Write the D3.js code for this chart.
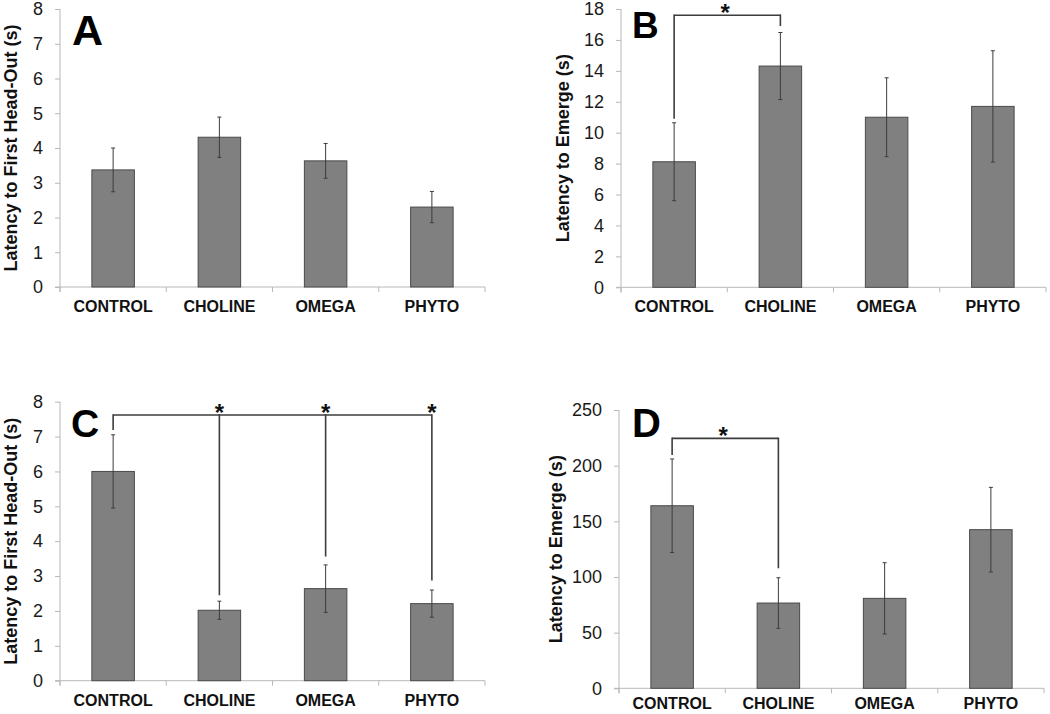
<!DOCTYPE html>
<html><head><meta charset="utf-8">
<script src="https://cdn.jsdelivr.net/npm/d3@7"></script>
<style>
html,body{margin:0;padding:0;background:#fff;}
svg{display:block;font-family:"Liberation Sans",Arial,sans-serif;}
</style></head>
<body>
<svg id="chart" width="1050" height="714"></svg>
<script>
// ---- data ----
const categories = ["CONTROL", "CHOLINE", "OMEGA", "PHYTO"];

const valuesA = [3.37, 4.31, 3.63, 2.30];
const errorsA = [0.63, 0.58, 0.50, 0.45];
const ticksA = [0, 1, 2, 3, 4, 5, 6, 7, 8];

const valuesB = [8.12, 14.31, 11.0, 11.7];
const errorsB = [2.52, 2.17, 2.55, 3.6];
const ticksB = [0, 2, 4, 6, 8, 10, 12, 14, 16, 18];

const valuesC = [6.0, 2.02, 2.64, 2.21];
const errorsC = [1.05, 0.26, 0.68, 0.39];
const ticksC = [0, 1, 2, 3, 4, 5, 6, 7, 8];

const valuesD = [164, 76.6, 80.8, 142.5];
const errorsD = [42, 22.7, 32, 38];
const ticksD = [0, 50, 100, 150, 200, 250];

const titleHeadOut = "Latency to First Head-Out (s)";
const titleEmerge = "Latency to Emerge (s)";

// significance brackets: [category, value where leg ends]
const bracketB = {level: 17.6, legs: [["CONTROL", 10.9], ["CHOLINE", 16.9]], stars: ["mid"]};
const bracketC = {level: 7.62, legs: [["CONTROL", 7.19], ["CHOLINE", 2.45], ["OMEGA", 3.56], ["PHYTO", 2.87]], stars: ["CHOLINE", "OMEGA", "PHYTO"]};
const bracketD = {level: 224.5, legs: [["CONTROL", 209.6], ["CHOLINE", 107.8]], stars: ["mid"]};

// ---- layout ----
const panels = [
  {letter: "A", values: valuesA, errors: errorsA, ticks: ticksA, title: titleHeadOut, bracket: null,
   x0: 60, x1: 485, yTop: 9, yBot: 287, labelDy: 25, titleX: 11, letterX: 72, letterY: 45, letterSize: 43},
  {letter: "B", values: valuesB, errors: errorsB, ticks: ticksB, title: titleEmerge, bracket: bracketB,
   x0: 621, x1: 1046, yTop: 9, yBot: 287.3, labelDy: 25, titleX: 563, letterX: 632, letterY: 38, letterSize: 37},
  {letter: "C", values: valuesC, errors: errorsC, ticks: ticksC, title: titleHeadOut, bracket: bracketC,
   x0: 60, x1: 485, yTop: 401.7, yBot: 680.7, labelDy: 25, titleX: 11, letterX: 71, letterY: 437, letterSize: 39},
  {letter: "D", values: valuesD, errors: errorsD, ticks: ticksD, title: titleEmerge, bracket: bracketD,
   x0: 619, x1: 1044, yTop: 410, yBot: 688.3, labelDy: 21, titleX: 556, letterX: 632, letterY: 437, letterSize: 40}
];

const svg = d3.select("#chart");
const axisColor = "#b8b8b8";
const darkLine = "#3c3c3c";

panels.forEach(p => {
  const g = svg.append("g");
  const x = d3.scaleBand().domain(categories).range([p.x0, p.x1]).paddingInner(0.6).paddingOuter(0.3);
  const y = d3.scaleLinear().domain([0, p.ticks[p.ticks.length - 1]]).range([p.yBot, p.yTop]);
  const step = x.step();

  // y axis
  const yAx = g.append("g").attr("transform", `translate(${p.x0},0)`)
    .call(d3.axisLeft(y).tickValues(p.ticks).tickSize(5).tickPadding(12).tickFormat(d3.format("d")));
  yAx.select(".domain").attr("stroke", axisColor).attr("d", `M-0,${p.yTop}V${p.yBot + 5}`);
  yAx.selectAll(".tick line").attr("stroke", axisColor);
  yAx.selectAll(".tick text").attr("font-size", 18).attr("fill", "#1a1a1a")
    .attr("font-family", "'Liberation Sans',Arial,sans-serif");

  // x axis: ticks at category boundaries
  const bounds = d3.range(categories.length + 1).map(i => p.x0 + i * step);
  g.append("line").attr("x1", p.x0 - 5).attr("x2", p.x1).attr("y1", p.yBot).attr("y2", p.yBot)
    .attr("stroke", axisColor).attr("stroke-width", 1);
  g.selectAll(".xt").data(bounds).enter().append("line")
    .attr("x1", d => d).attr("x2", d => d).attr("y1", p.yBot).attr("y2", p.yBot + 5)
    .attr("stroke", axisColor);
  g.selectAll(".xl").data(categories).enter().append("text")
    .attr("x", d => x(d) + x.bandwidth() / 2).attr("y", p.yBot + p.labelDy)
    .attr("text-anchor", "middle").attr("font-size", 16).attr("font-weight", "bold").attr("fill", "#111")
    .text(d => d);

  // bars
  g.selectAll(".bar").data(categories).enter().append("rect")
    .attr("x", d => x(d)).attr("width", x.bandwidth())
    .attr("y", (d, i) => y(p.values[i])).attr("height", (d, i) => p.yBot - y(p.values[i]))
    .attr("fill", "#808080").attr("stroke", "#4a4a4a").attr("stroke-width", 1);

  // error bars
  const eb = g.selectAll(".eb").data(categories).enter().append("g");
  eb.append("line")
    .attr("x1", d => x(d) + x.bandwidth() / 2).attr("x2", d => x(d) + x.bandwidth() / 2)
    .attr("y1", (d, i) => y(p.values[i] + p.errors[i])).attr("y2", (d, i) => y(p.values[i] - p.errors[i]))
    .attr("stroke", darkLine).attr("stroke-width", 1);
  [1, -1].forEach(s => {
    eb.append("line")
      .attr("x1", d => x(d) + x.bandwidth() / 2 - 2).attr("x2", d => x(d) + x.bandwidth() / 2 + 2)
      .attr("y1", (d, i) => y(p.values[i] + s * p.errors[i])).attr("y2", (d, i) => y(p.values[i] + s * p.errors[i]))
      .attr("stroke", darkLine).attr("stroke-width", 1);
  });

  // y title
  const cy = (p.yTop + p.yBot) / 2;
  g.append("text").attr("transform", `translate(${p.titleX},${cy}) rotate(-90)`)
    .attr("text-anchor", "middle").attr("dominant-baseline", "central")
    .attr("font-size", 18).attr("font-weight", "bold").attr("fill", "#111").text(p.title);

  // panel letter
  g.append("text").attr("x", p.letterX).attr("y", p.letterY).attr("font-size", p.letterSize)
    .attr("font-weight", "bold").attr("fill", "#000").text(p.letter);

  // significance bracket
  if (p.bracket) {
    const b = p.bracket;
    const cx = c => x(c) + x.bandwidth() / 2;
    const ly = y(b.level);
    const xs = b.legs.map(l => cx(l[0]));
    g.append("line").attr("x1", d3.min(xs)).attr("x2", d3.max(xs)).attr("y1", ly).attr("y2", ly)
      .attr("stroke", darkLine).attr("stroke-width", 1.6);
    b.legs.forEach(l => {
      g.append("line").attr("x1", cx(l[0])).attr("x2", cx(l[0])).attr("y1", ly - 0.8).attr("y2", y(l[1]))
        .attr("stroke", darkLine).attr("stroke-width", 1.6);
    });
    b.stars.forEach(s => {
      const sx = s === "mid" ? (d3.min(xs) + d3.max(xs)) / 2 - 2 : cx(s);
      g.append("text").attr("x", sx).attr("y", ly + 6).attr("text-anchor", "middle")
        .attr("font-size", 24).attr("font-weight", "bold").attr("fill", "#111").text("*");
    });
  }
});
</script>
</body></html>
